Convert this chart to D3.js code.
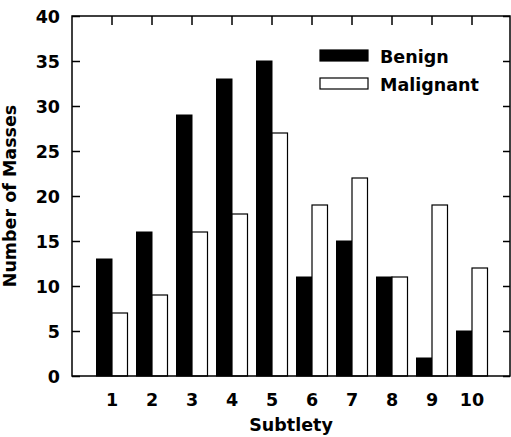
<!DOCTYPE html>
<html>
<head>
<meta charset="utf-8">
<script src="https://cdn.jsdelivr.net/npm/d3@7"></script>
<style>
  html, body { margin: 0; padding: 0; background: #fff; }
  svg { display: block; }
  text { font-family: "DejaVu Sans", "Liberation Sans", Arial, sans-serif; font-weight: bold; fill: #000; }
</style>
</head>
<body>
<svg id="chart" width="511" height="437"></svg>
<script>
// Subtlety ratings (1–10) and the number of masses per rating
const categories = ["1", "2", "3", "4", "5", "6", "7", "8", "9", "10"];
const benign     = [13, 16, 29, 33, 35, 11, 15, 11, 2, 5];
const malignant  = [7, 9, 16, 18, 27, 19, 22, 11, 19, 12];
const yTicks     = [0, 5, 10, 15, 20, 25, 30, 35, 40];
const seriesNames = ["Benign", "Malignant"];

const svg = d3.select("#chart");
const frame = { left: 72, right: 510, top: 16, bottom: 376 };
const fontSize = "17.5px";

const x = d3.scaleBand()
  .domain(categories)
  .range([92, 492])
  .paddingInner(0).paddingOuter(0);

const y = d3.scaleLinear()
  .domain([0, 40])
  .range([frame.bottom, frame.top]);

const barW = 15.5;
const center = c => x(c) + x.bandwidth() / 2;

// Bars: benign (black) to the left of each category centre, malignant (white) to the right
const bars = svg.append("g");
bars.selectAll("rect.benign")
  .data(categories.map((c, i) => ({ c, v: benign[i] })))
  .join("rect")
  .attr("class", "benign")
  .attr("x", d => center(d.c) - barW)
  .attr("width", barW)
  .attr("y", d => y(d.v))
  .attr("height", d => y(0) - y(d.v))
  .attr("fill", "#000")
  .attr("stroke", "#000")
  .attr("stroke-width", 1);

bars.selectAll("rect.malignant")
  .data(categories.map((c, i) => ({ c, v: malignant[i] })))
  .join("rect")
  .attr("class", "malignant")
  .attr("x", d => center(d.c))
  .attr("width", barW)
  .attr("y", d => y(d.v))
  .attr("height", d => y(0) - y(d.v))
  .attr("fill", "#fff")
  .attr("stroke", "#000")
  .attr("stroke-width", 1.2);

// Frame
svg.append("rect")
  .attr("x", frame.left).attr("y", frame.top)
  .attr("width", frame.right - frame.left)
  .attr("height", frame.bottom - frame.top)
  .attr("fill", "none").attr("stroke", "#000").attr("stroke-width", 1.5);

// Left axis: inward ticks with labels
const leftAxis = svg.append("g").attr("transform", `translate(${frame.left},0)`)
  .call(d3.axisLeft(y).tickValues(yTicks).tickSize(-8).tickPadding(12).tickFormat(d3.format("d")));
leftAxis.select(".domain").remove();
leftAxis.selectAll(".tick line").attr("stroke-width", 1.5);
leftAxis.selectAll(".tick text")
  .style("font-size", fontSize)
  .attr("font-family", null).attr("dy", "0.36em");

// Right axis: inward ticks, no labels
const rightAxis = svg.append("g").attr("transform", `translate(${frame.right},0)`)
  .call(d3.axisRight(y).tickValues(yTicks).tickSize(-7).tickFormat(""));
rightAxis.select(".domain").remove();
rightAxis.selectAll(".tick line").attr("stroke-width", 1.5);

// Top axis: inward ticks at category centres
const topAxis = svg.append("g").attr("transform", `translate(0,${frame.top})`)
  .call(d3.axisTop(x).tickSize(-9).tickFormat(""));
topAxis.select(".domain").remove();
topAxis.selectAll(".tick line").attr("stroke-width", 1.5);

// Bottom axis: category labels only
const bottomAxis = svg.append("g").attr("transform", `translate(0,${frame.bottom})`)
  .call(d3.axisBottom(x).tickSize(0).tickPadding(18));
bottomAxis.select(".domain").remove();
bottomAxis.selectAll(".tick text")
  .style("font-size", fontSize)
  .attr("font-family", null);

// Axis titles
svg.append("text")
  .attr("x", (frame.left + frame.right) / 2)
  .attr("y", 431)
  .attr("text-anchor", "middle")
  .style("font-size", fontSize)
  .text("Subtlety");

svg.append("text")
  .attr("transform", `translate(16,${(frame.top + frame.bottom) / 2}) rotate(-90)`)
  .attr("text-anchor", "middle")
  .style("font-size", fontSize)
  .text("Number of Masses");

// Legend
const legend = svg.append("g");
const legendFill = ["#000", "#fff"];
seriesNames.forEach((name, i) => {
  const ly = 50 + i * 28;
  legend.append("rect")
    .attr("x", 320).attr("y", ly)
    .attr("width", 48).attr("height", 11)
    .attr("fill", legendFill[i]).attr("stroke", "#000").attr("stroke-width", 1.2);
  legend.append("text")
    .attr("x", 380).attr("y", ly + 13)
    .style("font-size", fontSize)
    .text(name);
});
</script>
</body>
</html>
